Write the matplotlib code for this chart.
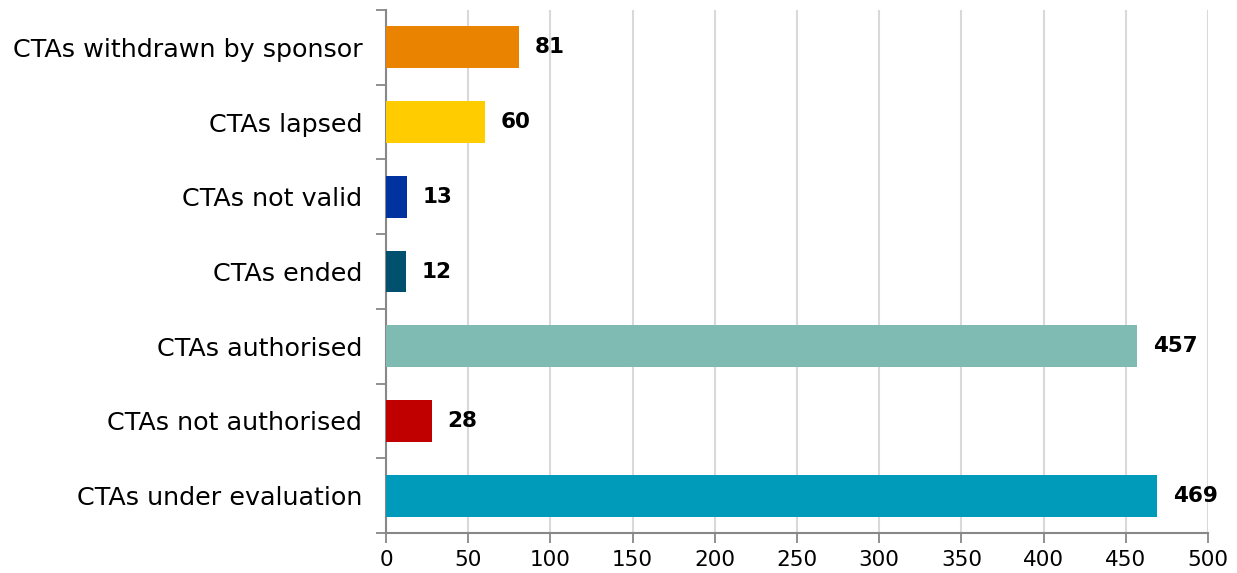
import matplotlib.pyplot as plt
import numpy as np

categories = [
    "CTAs under evaluation",
    "CTAs not authorised",
    "CTAs authorised",
    "CTAs ended",
    "CTAs not valid",
    "CTAs lapsed",
    "CTAs withdrawn by sponsor",
]
values = [469, 28, 457, 12, 13, 60, 81]
colors = ["#009BBB", "#C00000", "#7FBBB2", "#00506E", "#0033A0", "#FFCC00", "#E98300"]
x_ticks = [0, 50, 100, 150, 200, 250, 300, 350, 400, 450, 500]

fig = plt.figure(figsize=(12.37, 5.73), dpi=100)
ax = fig.add_axes([0.312, 0.0698, 0.6646, 0.9127])

y = np.arange(len(categories))
ax.barh(y, values, height=0.56, color=colors, zorder=3)

# value labels to the right of each bar
for yi, v in zip(y, values):
    ax.text(v + 9.5, yi, str(v), va="center", ha="left",
            fontsize=15.5, fontweight="bold", color="black")

ax.set_xlim(0, 500)
ax.set_ylim(-0.5, len(categories) - 0.5)
ax.set_xticks(x_ticks)
ax.set_xticklabels([str(t) for t in x_ticks], fontsize=15.5)
ax.set_yticks(y)
ax.set_yticklabels(categories, fontsize=18.3)
ax.set_yticks(np.arange(-0.5, len(categories), 1.0), minor=True)

ax.tick_params(axis="y", which="major", length=0, pad=17)
ax.tick_params(axis="y", which="minor", length=7, color="#888888", width=1.3)
ax.tick_params(axis="x", which="major", length=7, color="#888888", width=1.3, pad=5)

ax.grid(axis="x", color="#D9D9D9", linewidth=1.5, zorder=0)
for side in ["top", "right"]:
    ax.spines[side].set_visible(False)
for side in ["left", "bottom"]:
    ax.spines[side].set_color("#888888")
    ax.spines[side].set_linewidth(1.5)

fig.savefig("out.png", dpi=100)
